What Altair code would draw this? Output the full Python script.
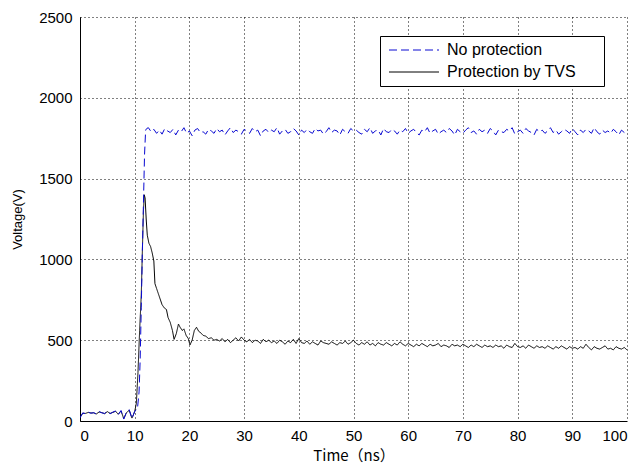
import altair as alt
import pandas as pd

SERIES = ["No protection", "Protection by TVS"]

# ---- No protection (blue dashed) ----
blue_t_start = [0, 0.5, 1, 1.5, 2, 2.5, 3, 3.5, 4, 4.5, 5, 5.5, 6, 6.5, 7, 7.5, 8, 8.5, 9, 9.5, 10,
                10.5, 10.8, 11.0, 11.2, 11.4, 11.6, 11.8, 12.0, 12.2]
blue_v_start = [20, 50, 45, 55, 48, 52, 42, 58, 50, 47, 60, 45, 55, 62, 40, 65, 12, 55, 70, 15, 60,
                75, 180, 380, 700, 1050, 1350, 1650, 1800, 1810]
blue_plateau = [
    1815, 1790, 1805, 1780, 1800, 1775, 1810, 1795, 1785, 1805,
    1770, 1800, 1790, 1815, 1780, 1795, 1765, 1800, 1810, 1785,
    1790, 1775, 1805, 1795, 1780, 1810, 1790, 1800, 1770, 1795,
    1815, 1785, 1800, 1790, 1775, 1805, 1795, 1780, 1810, 1790,
    1800, 1765, 1795, 1805, 1785, 1800, 1790, 1815, 1775, 1795,
    1805, 1780, 1790, 1810, 1795, 1770, 1800, 1785, 1805, 1790,
    1780, 1810, 1795, 1800, 1775, 1790, 1815, 1785, 1800, 1795,
    1770, 1805, 1790, 1780, 1810, 1795, 1800, 1785, 1775, 1805,
    1790, 1815, 1780, 1795, 1800, 1770, 1810, 1790, 1785, 1805,
    1795, 1775, 1800, 1790, 1810, 1780, 1795, 1805, 1785, 1770,
    1800, 1790, 1815, 1780, 1795, 1805, 1775, 1790, 1800, 1785,
    1810, 1795, 1770, 1805, 1790, 1780, 1800, 1815, 1785, 1795,
    1775, 1805, 1790, 1800, 1780, 1810, 1795, 1770, 1800, 1790,
    1785, 1805, 1795, 1815, 1775, 1790, 1800, 1780, 1810, 1795,
    1785, 1770, 1805, 1790, 1800, 1780, 1795, 1815, 1785, 1800,
    1775, 1790, 1805, 1795, 1780, 1810, 1790, 1770, 1800, 1785,
    1805, 1795, 1780, 1815, 1790, 1775, 1800, 1785, 1795, 1780,
    1805, 1790, 1770, 1800, 1785, 1795,
]
blue_plateau_t0 = 12.5   # first sample time of plateau, 0.5 ns sampling

# ---- Protection by TVS (black solid) ----
black_t_start = [0, 0.5, 1, 1.5, 2, 2.5, 3, 3.5, 4, 4.5, 5, 5.5, 6, 6.5, 7, 7.5, 8, 8.5, 9, 9.5, 10,
                 10.3, 10.6, 10.9, 11.2, 11.4, 11.6, 11.75, 11.9, 12.1, 12.3, 12.6, 12.9, 13.2, 13.5,
                 13.7, 14.0, 14.3, 14.6, 15.0, 15.4, 15.8, 16.1, 16.5, 16.9, 17.2, 17.6, 18.0, 18.3,
                 18.7, 19.0, 19.4, 19.8, 20.1, 20.5, 20.9, 21.3, 21.7, 22.1, 22.5, 23.0, 23.5, 24.0,
                 24.5, 25.0]
black_v_start = [22, 48, 47, 53, 50, 50, 44, 56, 52, 45, 58, 47, 53, 60, 42, 62, 15, 52, 66, 18, 58,
                 110, 300, 560, 780, 1050, 1300, 1400, 1380, 1250, 1150, 1100, 1080, 1040, 990,
                 850, 820, 790, 760, 720, 700, 690, 640, 610, 560, 505, 540, 600, 580,
                 560, 570, 530, 510, 470, 500, 560, 580, 555, 545, 530, 525, 510, 515,
                 500, 505]
black_plateau = [
    495, 510, 490, 505, 485, 500, 515, 495, 520, 500,
    490, 505, 485, 500, 495, 480, 505, 490, 500, 485,
    495, 480, 500, 490, 475, 495, 485, 505, 480, 510,
    485, 480, 495, 475, 490, 480, 470, 495, 485, 480,
    475, 490, 480, 470, 485, 480, 495, 475, 485, 500,
    480, 470, 485, 475, 490, 470, 480, 465, 485, 475,
    470, 485, 475, 465, 480, 470, 490, 475, 465, 480,
    470, 460, 475, 465, 480, 470, 460, 475, 465, 470,
    480, 460, 470, 465, 455, 475, 465, 470, 460, 475,
    465, 455, 470, 460, 475, 465, 455, 470, 460, 465,
    455, 470, 460, 465, 450, 470, 460, 455, 480, 460,
    455, 465, 450, 470, 460, 450, 465, 455, 460, 450,
    465, 455, 445, 460, 450, 465, 455, 445, 460, 450,
    455, 445, 460, 450, 475, 455, 440, 460, 450, 445,
    455, 465, 445, 450, 440, 460, 450, 445, 455, 440,
]
black_plateau_t0 = 25.5

X_TICKS = [0, 10, 20, 30, 40, 50, 60, 70, 80, 90, 100]
Y_TICKS = [0, 500, 1000, 1500, 2000, 2500]

rows = []
for t, v in zip(blue_t_start, blue_v_start):
    rows.append({"t": t, "v": v, "s": SERIES[0]})
for i, v in enumerate(blue_plateau):
    rows.append({"t": blue_plateau_t0 + 0.5 * i, "v": v, "s": SERIES[0]})
for t, v in zip(black_t_start, black_v_start):
    rows.append({"t": t, "v": v, "s": SERIES[1]})
for i, v in enumerate(black_plateau):
    rows.append({"t": black_plateau_t0 + 0.5 * i, "v": v, "s": SERIES[1]})
df = pd.DataFrame(rows)

FONT = "Liberation Sans, Noto Sans CJK SC, sans-serif"
CJK_FONT = "Noto Sans CJK SC, Liberation Sans, sans-serif"


def make_legend():
    return alt.Legend(
        title="\u2003",
        titleOrient="right",
        titleFontSize=16,
        titlePadding=22,
        orient="none",
        legendX=300,
        legendY=19,
        symbolType="M-1,0H9",
        symbolSize=100,
        symbolStrokeWidth=1,
        labelFont=FONT,
        labelFontSize=16,
        labelColor="#000",
        labelOffset=45,
        labelLimit=300,
        strokeColor="#000",
        fillColor="#fff",
        padding=6,
        rowPadding=6,
    )


color = alt.Color(
    "s:N",
    scale=alt.Scale(domain=SERIES, range=["#0a0ad2", "#000000"]),
    legend=make_legend(),
)
dash = alt.StrokeDash(
    "s:N",
    scale=alt.Scale(domain=SERIES, range=[[8, 4], [1, 0]]),
    legend=make_legend(),
)

x = alt.X(
    "t:Q",
    scale=alt.Scale(domain=[0, 100], nice=False, zero=False),
    axis=alt.Axis(values=X_TICKS, title="Time（ns）", labelPadding=7, titlePadding=5,
                  titleFont=CJK_FONT, titleFontSize=15),
)
y = alt.Y(
    "v:Q",
    scale=alt.Scale(domain=[0, 2500], nice=False),
    axis=alt.Axis(values=Y_TICKS, format="d", title="Voltage(V)", labelPadding=8,
                  titlePadding=14, titleFont=FONT, titleFontSize=13),
)

base = alt.Chart(df).mark_line(strokeWidth=1, clip=True).encode(
    x=x, y=y, color=color, strokeDash=dash, order="t:Q"
)

chart = alt.layer(
    base.transform_filter(alt.datum.s == SERIES[1]),
    base.transform_filter(alt.datum.s == SERIES[0]),
).properties(
    width=547,
    height=404,
    autosize=alt.AutoSizeParams(type="none"),
    padding={"left": 80, "top": 17, "right": 7, "bottom": 42},
    background="#ffffff",
).configure_view(
    stroke=None
).configure_axis(
    labelFont=FONT,
    labelFontSize=15,
    titleFontWeight="normal",
    labelColor="#000",
    titleColor="#000",
    domainColor="#000",
    domainWidth=1,
    ticks=False,
    grid=True,
    gridColor="#000",
    gridDash=[1, 3],
    gridOpacity=1,
    gridWidth=1,
)

chart.save("out.html", embed_options={"renderer": "svg", "actions": False})
